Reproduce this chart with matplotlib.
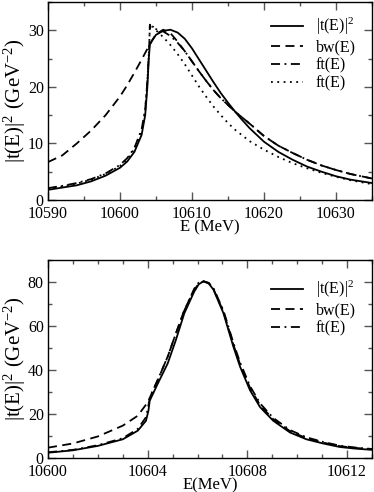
import matplotlib
matplotlib.use("Agg")
import matplotlib.pyplot as plt
from matplotlib.ticker import MultipleLocator

plt.rcParams['font.family'] = ['Liberation Serif', 'DejaVu Serif']
plt.rcParams['mathtext.fontset'] = 'custom'
plt.rcParams['mathtext.rm'] = 'Liberation Serif'
plt.rcParams['mathtext.it'] = 'Liberation Serif:italic'

# ---------------- top panel data ----------------
top_t_E = [10590, 10592, 10594, 10596, 10598, 10600, 10601, 10602, 10603, 10603.5,
           10603.8, 10604.0, 10604.15, 10604.5, 10605, 10606, 10607, 10608, 10609,
           10610, 10611, 10612, 10613, 10614, 10615, 10616, 10617, 10618, 10620,
           10622, 10624, 10626, 10628, 10630, 10632, 10635]
top_t_v = [1.8, 2.2, 2.6, 3.3, 4.3, 5.7, 6.8, 8.5, 11.5, 15.0,
           20.0, 25.0, 27.5, 28.3, 29.2, 29.9, 30.1, 29.6, 28.5,
           26.8, 24.8, 22.8, 20.8, 18.9, 17.2, 15.6, 14.1, 12.7, 10.3,
           8.5, 7.1, 5.9, 5.0, 4.2, 3.6, 3.0]

top_bw_E = [10590, 10592, 10594, 10596, 10598, 10600, 10601, 10602, 10603, 10604,
            10605, 10606, 10607, 10608, 10609, 10610, 10611, 10612, 10613, 10614,
            10615, 10616, 10618, 10620, 10622, 10624, 10626, 10628, 10630, 10632, 10635]
top_bw_v = [6.7, 7.9, 10.0, 12.3, 15.0, 18.3, 20.3, 22.5, 24.8, 27.2,
            29.3, 30.1, 29.5, 28.0, 26.3, 24.5, 22.7, 21.0, 19.4, 18.0,
            16.8, 15.6, 13.5, 11.3, 9.6, 8.3, 7.1, 6.1, 5.3, 4.6, 3.8]

top_ft_E = [10590, 10592, 10594, 10596, 10598, 10600, 10601, 10602, 10603, 10603.5,
            10603.8, 10604.05, 10604.15, 10604.3, 10605, 10606, 10607, 10608, 10609,
            10610, 10611, 10612, 10613, 10614, 10615, 10616, 10618, 10620, 10622,
            10624, 10626, 10628, 10630, 10632, 10635]
top_ft_v = [2.1, 2.5, 3.0, 3.7, 4.7, 6.2, 7.4, 9.2, 12.5, 16.0,
            21.0, 27.0, 31.0, 30.4, 30.2, 29.8, 29.0, 27.8, 26.3,
            24.5, 22.7, 21.0, 19.4, 18.0, 16.8, 15.6, 13.5, 11.3, 9.6,
            8.3, 7.1, 6.1, 5.3, 4.6, 3.8]

top_ft2_E = [10590, 10592, 10594, 10596, 10598, 10600, 10601, 10602, 10603, 10603.5,
             10603.8, 10604.05, 10604.15, 10604.6, 10605, 10606, 10607, 10608, 10609,
             10610, 10611, 10612, 10613, 10614, 10615, 10616, 10618, 10620, 10622,
             10624, 10626, 10628, 10630, 10632, 10635]
top_ft2_v = [2.0, 2.4, 2.9, 3.6, 4.6, 6.0, 7.2, 9.0, 12.2, 15.8,
             21.0, 27.0, 31.0, 30.6, 30.0, 28.8, 27.4, 25.8, 24.0,
             22.0, 20.0, 18.2, 16.5, 15.0, 13.6, 12.4, 10.4, 8.9, 7.6,
             6.5, 5.6, 4.8, 4.1, 3.5, 2.8]

# ---------------- bottom panel data ----------------
bot_t_E = [10600, 10601, 10602, 10603, 10603.6, 10603.93, 10604.03, 10604.08, 10604.4,
           10604.8, 10605.13, 10605.47, 10605.87, 10606.05, 10606.24, 10606.45, 10606.64,
           10607.04, 10607.44, 10607.71, 10608.11, 10608.51, 10609.04, 10609.71,
           10610.37, 10611.04, 10611.71, 10612.3, 10613]
bot_t_v = [2.4, 3.5, 5.5, 8.5, 12.4, 16.9, 21.5, 26.0, 33.7,
           42.9, 53.6, 65.8, 75.7, 79.0, 80.3, 79.3, 76.5,
           65.8, 50.5, 41.4, 30.7, 23.1, 16.9, 11.6,
           8.5, 6.6, 5.0, 4.3, 3.7]

bot_bw_E = [10600, 10601, 10602, 10603, 10603.6, 10604, 10604.4, 10604.8, 10605.13,
            10605.47, 10605.87, 10606.05, 10606.24, 10606.45, 10606.64, 10607.04, 10607.44,
            10607.71, 10608.11, 10608.51, 10609.04, 10609.71, 10610.37, 10611.04,
            10611.71, 10612.3, 10613]
bot_bw_v = [4.7, 6.6, 9.8, 14.7, 19.2, 25.3, 35.3, 46.0, 56.6,
            67.3, 76.5, 79.3, 80.3, 79.5, 76.8, 66.5, 51.5,
            42.5, 31.8, 24.0, 17.6, 12.2, 9.0, 7.0,
            5.4, 4.6, 4.0]

bot_ft_E = [10600, 10601, 10602, 10603, 10603.6, 10603.93, 10604.03, 10604.1, 10604.4,
            10604.8, 10605.13, 10605.47, 10605.87, 10606.05, 10606.2, 10606.45, 10606.64,
            10607.04, 10607.44, 10607.71, 10608.11, 10608.51, 10609.04, 10609.71,
            10610.37, 10611.04, 10611.71, 10612.3, 10613]
bot_ft_v = [2.6, 3.7, 5.8, 9.0, 13.2, 18.5, 24.0, 28.0, 35.5,
            46.0, 56.5, 67.0, 77.0, 79.8, 80.5, 79.6, 77.2,
            67.0, 52.3, 43.3, 32.6, 24.8, 18.2, 12.7,
            9.4, 7.3, 5.6, 4.8, 4.1]

labels = [r'$|$t(E)$|^2$', 'bw(E)', 'ft(E)', 'ft(E)']

fig = plt.figure(figsize=(3.74, 4.92), dpi=100)
ax1 = fig.add_axes([48/374, 1 - 200/492, 324/374, 198/492])
ax2 = fig.add_axes([48/374, 1 - 458/492, 324/374, 198/492])

lw = 1.3
ax1.plot(top_t_E, top_t_v, color='black', lw=lw, ls='-', label=labels[0])
ax1.plot(top_bw_E, top_bw_v, color='black', lw=lw, ls=(0, (5, 3)), label=labels[1])
ax1.plot(top_ft_E, top_ft_v, color='black', lw=lw, ls=(0, (5, 2.5, 1, 2.5)), label=labels[2])
ax1.plot(top_ft2_E, top_ft2_v, color='black', lw=lw, ls=(0, (1, 2.5)), label=labels[3])

ax2.plot(bot_t_E, bot_t_v, color='black', lw=lw, ls='-', label=labels[0])
ax2.plot(bot_bw_E, bot_bw_v, color='black', lw=lw, ls=(0, (5, 3)), label=labels[1])
ax2.plot(bot_ft_E, bot_ft_v, color='black', lw=lw, ls=(0, (5, 2.5, 1, 2.5)), label=labels[2])

ax1.set_xlim(10590, 10635)
ax1.set_ylim(0, 35)
ax1.xaxis.set_major_locator(MultipleLocator(10))
ax1.xaxis.set_minor_locator(MultipleLocator(5))
ax1.yaxis.set_major_locator(MultipleLocator(10))
ax1.yaxis.set_minor_locator(MultipleLocator(5))

ax2.set_xlim(10600, 10613)
ax2.set_ylim(0, 90)
ax2.xaxis.set_major_locator(MultipleLocator(4))
ax2.xaxis.set_minor_locator(MultipleLocator(1))
ax2.yaxis.set_major_locator(MultipleLocator(20))
ax2.yaxis.set_minor_locator(MultipleLocator(10))

ylab = r'$|$t(E)$|^2$ (GeV$^{-2}$)'
for ax, xl, ly in ((ax1, 'E (MeV)', 0.985), (ax2, 'E(MeV)', 0.96)):
    ax.tick_params(which='both', direction='in', top=True, right=True,
                   labelsize=11.5, color='#555555')
    ax.tick_params(axis='x', which='major', pad=4)
    ax.tick_params(axis='y', which='major', pad=3)
    ax.tick_params(which='major', length=6, width=1)
    ax.tick_params(which='minor', length=3, width=1)
    ax.ticklabel_format(useOffset=False, style='plain')
    for s in ax.spines.values():
        s.set_linewidth(1.0)
    ax.set_xlabel(xl, fontsize=12, labelpad=-1.5)
    ax.set_ylabel(ylab, fontsize=15, labelpad=0)
    ax.legend(loc='upper right', bbox_to_anchor=(0.985, ly), frameon=False,
              fontsize=11.5, handlelength=2.0, handletextpad=0.8,
              labelspacing=0.12, borderaxespad=0.3)

fig.savefig('out.png', dpi=100)
